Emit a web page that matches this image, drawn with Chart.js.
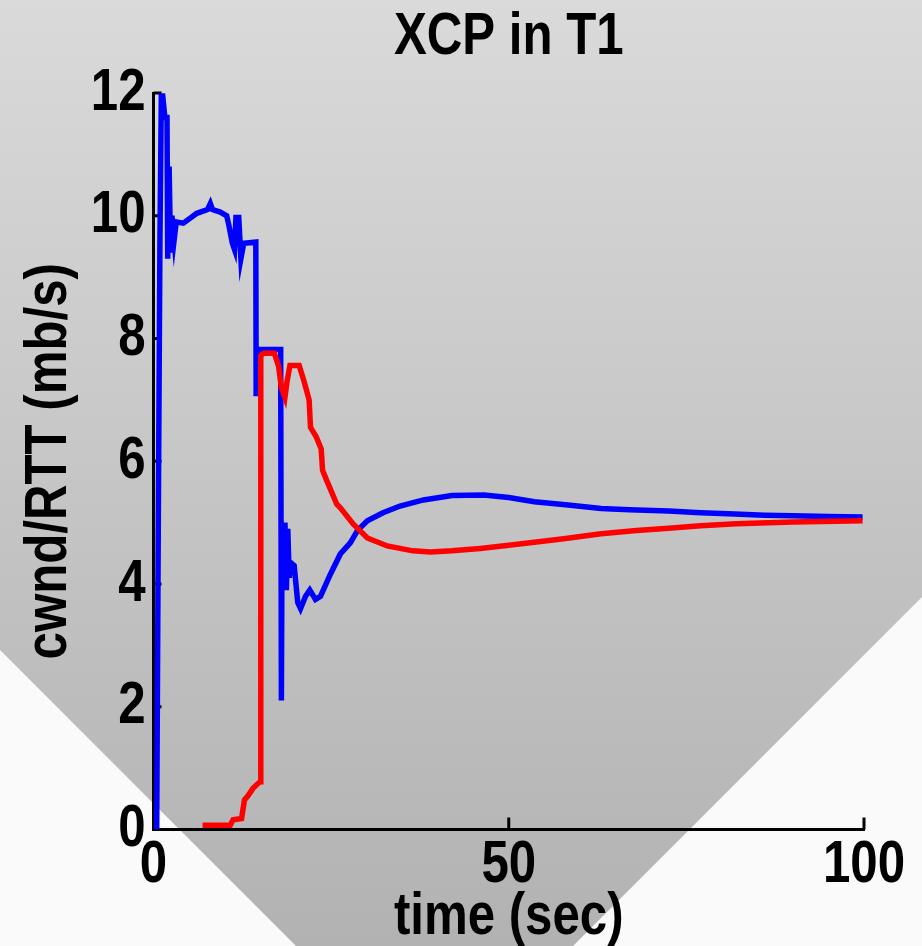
<!DOCTYPE html>
<html>
<head>
<meta charset="utf-8">
<title>XCP in T1</title>
<script src="https://cdn.jsdelivr.net/npm/chart.js@4/dist/chart.umd.min.js"></script>
<style>
  html, body { margin: 0; padding: 0; background: #fff; }
  canvas { display: block; }
</style>
</head>
<body>
<canvas id="chart" width="922" height="946"></canvas>
<script>
// Flow 1 (blue): cwnd/RTT in mb/s against time in seconds
const flow1Time = [0.45, 0.7, 0.9, 1.1, 1.3, 1.6, 1.9, 2.0, 2.2, 2.4, 2.6, 2.9, 3.2, 4.2, 6.1, 7.6, 8.0, 8.3, 9.4,
  10.3, 10.6, 11.1, 11.4, 11.6, 12.0, 12.3, 12.7, 14.4, 14.45, 14.7, 17.9, 18.0, 18.1, 18.3, 18.5, 18.7, 18.9,
  19.1, 19.3, 19.8, 20.3, 20.7, 21.4, 22.0, 22.8, 23.5, 24.9, 26.3, 27.7, 28.7, 30.1, 32.3, 34.7, 38, 42, 46.5,
  50, 53.6, 58, 63, 67, 72.5, 77, 81.8, 86, 90, 95, 99.8];
const flow1Rate = [0, 5.5, 9.5, 11.95, 11.95, 11.6, 11.6, 9.3, 10.8, 9.4, 10.0, 9.6, 9.9, 9.88, 10.04, 10.1, 10.2, 10.1, 10.06,
  10.0, 9.85, 9.55, 9.45, 9.97, 9.97, 9.3, 9.55, 9.57, 7.06, 7.82, 7.82, 2.1, 5.0, 4.0, 5.0, 3.9, 4.9,
  4.1, 4.35, 4.3, 3.7, 3.6, 3.8, 3.9, 3.75, 3.8, 4.16, 4.49, 4.67, 4.87, 5.03, 5.16, 5.27, 5.37, 5.44, 5.45,
  5.41, 5.34, 5.29, 5.23, 5.21, 5.19, 5.16, 5.14, 5.12, 5.11, 5.1, 5.09];

// Flow 2 (red)
const flow2Time = [6.9, 10.8, 11.2, 12.4, 12.8, 13.3, 14.0, 15.0, 15.1, 15.5, 17.0, 17.6, 18.0, 18.5, 18.8, 19.2,
  20.5, 21.2, 21.9, 22.1, 22.9, 23.6, 23.8, 24.4, 25.8, 26.3, 28.1, 30.1, 32.9, 34.7, 36.5, 39, 42, 46, 50,
  53.6, 58, 63, 68, 72.5, 77, 82, 90, 99.8];
const flow2Rate = [0.07, 0.07, 0.16, 0.18, 0.48, 0.55, 0.67, 0.78, 7.72, 7.76, 7.76, 7.55, 7.2, 7.04, 7.3, 7.56,
  7.56, 7.3, 7.0, 6.55, 6.4, 6.2, 5.85, 5.68, 5.3, 5.24, 4.98, 4.75, 4.62, 4.58, 4.54, 4.52, 4.54, 4.58, 4.63,
  4.68, 4.74, 4.82, 4.87, 4.91, 4.95, 4.98, 5.01, 5.03];

const xTickValues = [0, 50, 100];
const yTickValues = [0, 2, 4, 6, 8, 10, 12];

const FAMILY = "'Liberation Sans', Arial, sans-serif";
const bigFont = { family: FAMILY, size: 60, weight: 'bold', lineHeight: 1.2 };
const NARROW = 0.82; // horizontal squeeze giving a narrow-bold look to all text

const toPoints = (ts, vs) => ts.map((t, i) => ({ x: t, y: vs[i] }));

const canvas = document.getElementById('chart');
const ctx2d = canvas.getContext('2d');

// Condense text horizontally around its anchor point
const rawFillText = ctx2d.fillText.bind(ctx2d);
const rawMeasureText = ctx2d.measureText.bind(ctx2d);
ctx2d.fillText = function (text, x, y, maxWidth) {
  this.save();
  this.translate(x, y);
  this.scale(NARROW, 1);
  if (maxWidth !== undefined) rawFillText(text, 0, 0, maxWidth / NARROW);
  else rawFillText(text, 0, 0);
  this.restore();
};
ctx2d.measureText = function (text) {
  const m = rawMeasureText(text);
  return {
    width: m.width * NARROW,
    actualBoundingBoxAscent: m.actualBoundingBoxAscent,
    actualBoundingBoxDescent: m.actualBoundingBoxDescent,
    actualBoundingBoxLeft: m.actualBoundingBoxLeft * NARROW,
    actualBoundingBoxRight: m.actualBoundingBoxRight * NARROW
  };
};

// Grey gradient backdrop with white corner wedges
const backdrop = {
  id: 'backdrop',
  beforeDraw(chart) {
    const { ctx, width, height } = chart;
    ctx.save();
    const g = ctx.createLinearGradient(0, 0, 0, height);
    g.addColorStop(0, '#dadada');
    g.addColorStop(1, '#b2b2b2');
    ctx.fillStyle = g;
    ctx.fillRect(0, 0, width, height);
    ctx.fillStyle = '#fafafa';
    ctx.beginPath();
    ctx.moveTo(0, 650); ctx.lineTo(296, height); ctx.lineTo(0, height);
    ctx.closePath(); ctx.fill();
    ctx.beginPath();
    ctx.moveTo(width, 597); ctx.lineTo(width, height); ctx.lineTo(573, height);
    ctx.closePath(); ctx.fill();
    ctx.restore();
  }
};

// Short tick marks pointing into the plot area
const innerTicks = {
  id: 'innerTicks',
  beforeDatasetsDraw(chart) {
    const { ctx, chartArea: a, scales: { x, y } } = chart;
    ctx.save();
    ctx.strokeStyle = '#000';
    ctx.lineWidth = 3;
    yTickValues.forEach(v => {
      const py = y.getPixelForValue(v);
      ctx.beginPath(); ctx.moveTo(a.left, py); ctx.lineTo(a.left + 8, py); ctx.stroke();
    });
    xTickValues.forEach(v => {
      const px = x.getPixelForValue(v);
      ctx.beginPath(); ctx.moveTo(px, a.bottom); ctx.lineTo(px, a.bottom - 12); ctx.stroke();
    });
    ctx.restore();
  }
};

Chart.defaults.color = '#000';

new Chart(ctx2d, {
  type: 'line',
  data: {
    datasets: [
      {
        label: 'flow 1',
        data: toPoints(flow1Time, flow1Rate),
        borderColor: '#0000ff',
        borderWidth: 5.5,
        pointRadius: 0,
        tension: 0,
        fill: false,
        order: 1
      },
      {
        label: 'flow 2',
        data: toPoints(flow2Time, flow2Rate),
        borderColor: '#ff0000',
        borderWidth: 5.5,
        pointRadius: 0,
        tension: 0,
        fill: false,
        order: 0
      }
    ]
  },
  options: {
    responsive: false,
    animation: false,
    devicePixelRatio: 1,
    layout: { padding: { left: 0, right: 58, top: 0, bottom: 0 } },
    plugins: {
      legend: { display: false },
      tooltip: { enabled: false },
      title: {
        display: true,
        fullSize: false,
        text: 'XCP in T1',
        color: '#000',
        font: bigFont,
        padding: { top: 1, bottom: 20 }
      }
    },
    scales: {
      x: {
        type: 'linear',
        min: 0,
        max: 100,
        afterBuildTicks: s => { s.ticks = xTickValues.map(v => ({ value: v })); },
        afterFit: s => { s.height = 116.5; },
        grid: { drawOnChartArea: false, drawTicks: false },
        border: { display: true, color: '#000', width: 3 },
        ticks: { padding: 0, maxRotation: 0, autoSkip: false, color: '#000', font: bigFont },
        title: {
          display: true,
          text: 'time (sec)',
          color: '#000',
          font: { family: FAMILY, size: 60, weight: 'bold', lineHeight: 1 },
          padding: { top: 0, bottom: -1 }
        }
      },
      y: {
        type: 'linear',
        min: 0,
        max: 12,
        afterBuildTicks: s => { s.ticks = yTickValues.map(v => ({ value: v })); },
        afterFit: s => { s.width = 153.5; },
        grid: { drawOnChartArea: false, drawTicks: false },
        border: { display: true, color: '#000', width: 3 },
        ticks: { padding: 8, autoSkip: false, color: '#000', font: bigFont },
        title: {
          display: true,
          text: 'cwnd/RTT (mb/s)',
          color: '#000',
          font: bigFont,
          padding: { top: 13, bottom: 0 }
        }
      }
    }
  },
  plugins: [backdrop, innerTicks]
});
</script>
</body>
</html>
